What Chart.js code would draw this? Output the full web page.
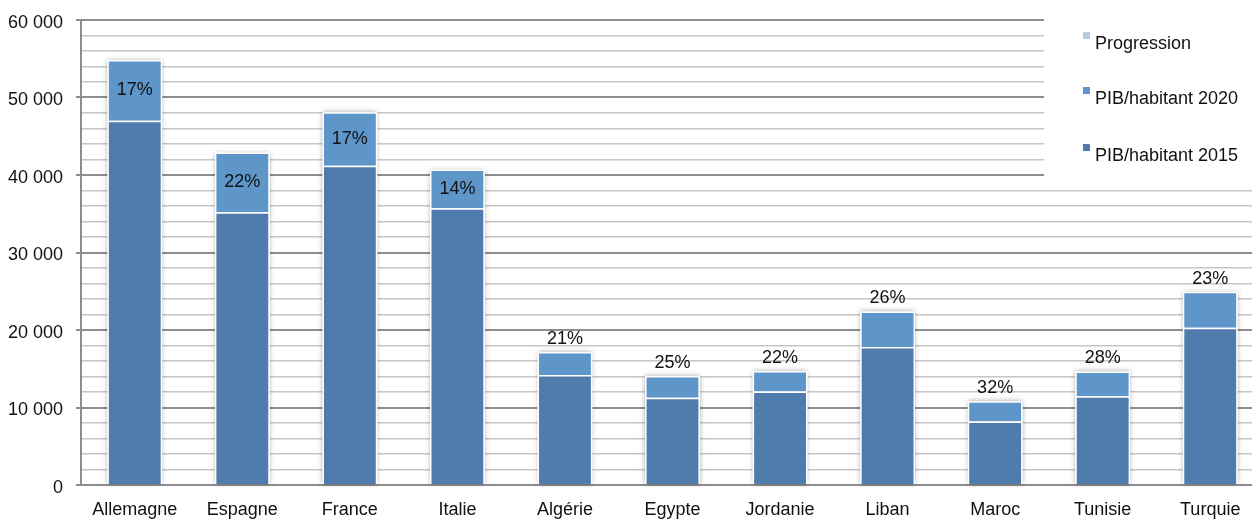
<!DOCTYPE html>
<html>
<head>
<meta charset="utf-8">
<script src="https://cdn.jsdelivr.net/npm/chart.js@4/dist/chart.umd.min.js"></script>
<style>
  html, body { margin: 0; padding: 0; background: #fff; overflow: hidden; width: 1252px; height: 523px; }
  #wrap { width: 1264px; height: 523px; }
</style>
</head>
<body>
<div id="wrap"><canvas id="c" width="1264" height="523"></canvas></div>
<script>
// GDP per inhabitant, 2015 vs 2020, with growth in percent
const categories = ['Allemagne', 'Espagne', 'France', 'Italie', 'Algérie', 'Egypte', 'Jordanie', 'Liban', 'Maroc', 'Tunisie', 'Turquie'];
const pib2015 = [47000, 35200, 41200, 35700, 14200, 11250, 12050, 17800, 8200, 11450, 20300];
const pib2020 = [54850, 42900, 48100, 40700, 17150, 14050, 14700, 22400, 10800, 14650, 24950];
const progression = [17, 22, 17, 14, 21, 25, 22, 26, 32, 28, 23];
const yTickLabels = ['0', '10 000', '20 000', '30 000', '40 000', '50 000', '60 000'];
const seriesNames = ['Progression', 'PIB/habitant 2020', 'PIB/habitant 2015'];

const FAMILY = "'Liberation Sans', Arial, sans-serif";
const SIZE = 18;
const CANVAS_FONT = `${SIZE}px ${FAMILY}`;
const COLORS = { p2015: '#4f7cac', p2020: '#5e96c9', prog: '#b9c9e2' };
const MAJOR = '#8e8e8e', MINOR = '#c6c6c6';

Chart.defaults.font.family = FAMILY;
Chart.defaults.font.size = SIZE;
Chart.defaults.color = '#111';

// white-edged bars with a soft grey halo
const barShadow = {
  id: 'barShadow',
  beforeDatasetsDraw(chart) {
    const ctx = chart.ctx;
    const m0 = chart.getDatasetMeta(0), m1 = chart.getDatasetMeta(1);
    ctx.save();
    ctx.shadowColor = 'rgba(0,0,0,0.35)';
    ctx.shadowBlur = 5;
    ctx.fillStyle = '#fff';
    m0.data.forEach((b, i) => {
      const top = m1.data[i].y;
      ctx.fillRect(b.x - b.width / 2, top, b.width, b.base - top);
    });
    ctx.restore();
  }
};

// growth percentage, inside the 2020 segment when it is tall enough, else above it
const growthLabels = {
  id: 'growthLabels',
  afterDatasetsDraw(chart) {
    const ctx = chart.ctx;
    const m1 = chart.getDatasetMeta(1);
    ctx.save();
    ctx.font = CANVAS_FONT;
    ctx.fillStyle = '#111';
    ctx.textAlign = 'center';
    ctx.textBaseline = 'middle';
    m1.data.forEach((el, i) => {
      const h = el.base - el.y;
      const y = h > 37.5 ? (el.y + el.base) / 2 : el.y - 13;
      ctx.fillText(progression[i] + '%', el.x, y);
    });
    ctx.restore();
  }
};

// legend block in the upper right corner
const cornerLegend = {
  id: 'cornerLegend',
  afterDraw(chart) {
    const ctx = chart.ctx;
    const colors = [COLORS.prog, COLORS.p2020, COLORS.p2015];
    const baselines = [49, 104, 161];
    ctx.save();
    ctx.fillStyle = '#fff';
    ctx.fillRect(1044, 0, chart.width - 1044, 179);
    ctx.font = CANVAS_FONT;
    ctx.textAlign = 'left';
    ctx.textBaseline = 'alphabetic';
    seriesNames.forEach((name, i) => {
      ctx.fillStyle = colors[i];
      ctx.fillRect(1083, baselines[i] - 17, 7, 7);
      ctx.fillStyle = '#111';
      ctx.fillText(name, 1095, baselines[i]);
    });
    ctx.restore();
  }
};

new Chart(document.getElementById('c'), {
  type: 'bar',
  data: {
    labels: categories,
    datasets: [
      {
        label: seriesNames[2],
        data: pib2015,
        backgroundColor: COLORS.p2015,
        borderColor: '#fff',
        borderWidth: 1.5,
        stack: 's'
      },
      {
        label: seriesNames[1],
        data: pib2020.map((v, i) => v - pib2015[i]),
        backgroundColor: COLORS.p2020,
        borderColor: '#fff',
        borderWidth: 1.5,
        stack: 's'
      },
      {
        label: seriesNames[0],
        data: progression.map(p => p / 100),
        backgroundColor: COLORS.prog,
        borderWidth: 0,
        stack: 's'
      }
    ]
  },
  options: {
    responsive: false,
    animation: false,
    devicePixelRatio: 1,
    layout: { padding: { top: 20, right: 0, left: 0, bottom: 0 } },
    datasets: { bar: { barPercentage: 0.51, categoryPercentage: 1 } },
    plugins: { legend: { display: false }, tooltip: { enabled: false } },
    scales: {
      x: {
        stacked: true,
        grid: { display: true, drawOnChartArea: false, drawTicks: false },
        border: { display: true, color: MAJOR, width: 2 },
        ticks: { padding: 14, color: '#111', maxRotation: 0, autoSkip: false },
        afterFit(scale) {
          scale.height = 38;
          scale.paddingLeft = 0;
          scale.paddingRight = 0;
        }
      },
      y: {
        stacked: true,
        min: 0,
        max: 60000,
        grid: {
          color: c => (c.tick && c.tick.value % 10000 === 0) ? MAJOR : MINOR,
          lineWidth: c => (c.tick && c.tick.value % 10000 === 0) ? 2 : 1.5,
          tickColor: c => (c.tick && c.tick.value % 10000 === 0) ? MAJOR : 'rgba(0,0,0,0)',
          tickLength: 5
        },
        border: { display: true, color: MAJOR, width: 2 },
        ticks: {
          stepSize: 2000,
          autoSkip: false,
          padding: 13,
          labelOffset: 3,
          color: '#111',
          callback: v => (v % 10000 === 0) ? yTickLabels[v / 10000] : ''
        },
        afterFit(scale) {
          scale.width = 81;
          scale.paddingTop = 0;
          scale.paddingBottom = 0;
        }
      }
    }
  },
  plugins: [barShadow, growthLabels, cornerLegend]
});
</script>
</body>
</html>
